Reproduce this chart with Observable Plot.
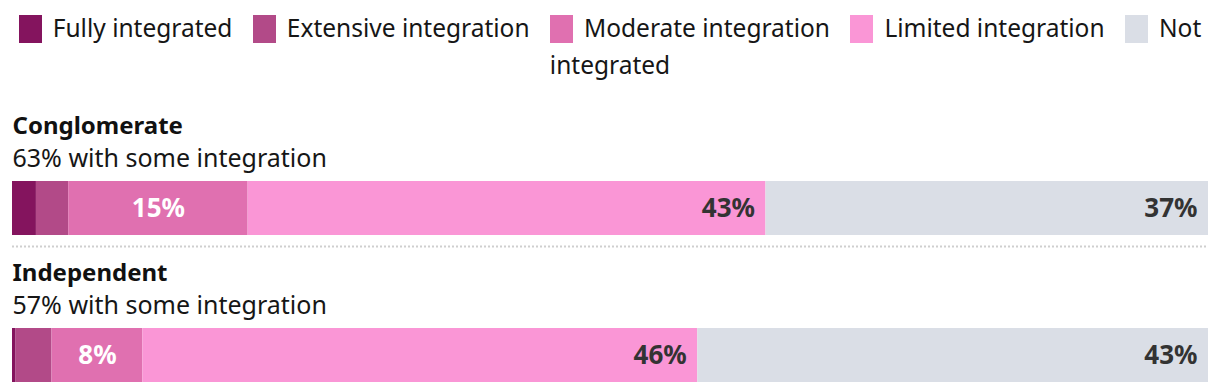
<!DOCTYPE html>
<html>
<head>
<meta charset="utf-8">
<script src="https://cdn.jsdelivr.net/npm/d3@7"></script>
<script src="https://cdn.jsdelivr.net/npm/@observablehq/plot@0.6"></script>
<style>
  html, body { margin: 0; padding: 0; background: #fff; }
  body { width: 1220px; height: 392px; overflow: hidden; font-family: "Noto Sans", sans-serif; color: #161616; }
  #legend { height: 100px; box-sizing: border-box; padding-top: 9px; text-align: center; font-size: 24.5px; line-height: 37px; }
  #legend .item { white-space: nowrap; margin: 0 7px; }
  #legend .sw { display: inline-block; width: 23px; height: 28px; vertical-align: -6px; margin-right: 11px; }
  #chart svg { display: block; }
</style>
</head>
<body>
<div id="legend"></div>
<div id="chart"></div>
<script>
const groups = ["Conglomerate", "Independent"];
const categories = ["Fully integrated", "Extensive integration", "Moderate integration", "Limited integration", "Not integrated"];
const colors = ["#84145e", "#b24a88", "#e070b0", "#fa96d6", "#dadee6"];
const conglomerateValues = [2, 2.7, 15, 43.3, 37];
const independentValues = [0.3, 3, 7.6, 46.4, 42.7];

const data = [];
groups.forEach((g, gi) => {
  const vals = gi === 0 ? conglomerateValues : independentValues;
  categories.forEach((c, ci) => data.push({group: g, category: c, value: vals[ci]}));
});
const someIntegration = groups.map((g) => ({
  group: g,
  pct: Math.round(d3.sum(data.filter(d => d.group === g && d.category !== "Not integrated"), d => d.value))
}));

// Legend (HTML)
const legend = document.getElementById("legend");
categories.forEach((c, i) => {
  const span = document.createElement("span");
  span.className = "item";
  const sw = document.createElement("span");
  sw.className = "sw";
  sw.style.background = colors[i];
  span.appendChild(sw);
  if (c === "Not integrated") {
    span.appendChild(document.createTextNode("Not"));
    legend.appendChild(span);
    legend.appendChild(document.createElement("br"));
    legend.appendChild(document.createTextNode("integrated"));
  } else {
    span.appendChild(document.createTextNode(c));
    legend.appendChild(span);
    legend.appendChild(document.createTextNode(" "));
  }
});

const fmt = d => Math.round(d.value) + "%";
const font = "Noto Sans, sans-serif";

const chart = Plot.plot({
  width: 1220,
  height: 292,
  marginLeft: 12,
  marginRight: 12,
  marginTop: 80,
  marginBottom: 10,
  style: {fontFamily: font, background: "white"},
  x: {domain: [0, 100], axis: null},
  y: {type: "band", domain: groups, paddingInner: 0.635, paddingOuter: 0, axis: null},
  color: {domain: categories, range: colors},
  marks: [
    Plot.barX(data, Plot.stackX({x: "value", y: "group", fill: "category", inset: 0})),
    Plot.text(data, Plot.stackX({
      x: "value", y: "group",
      text: d => d.category === "Moderate integration" && d.value >= 5 ? fmt(d) : "",
      fill: "white", fontSize: 26, fontWeight: 700
    })),
    Plot.text(data, Plot.stackX2({
      x: "value", y: "group",
      text: d => (d.category === "Limited integration" || d.category === "Not integrated") && d.value >= 5 ? fmt(d) : "",
      fill: "#333", fontSize: 26, fontWeight: 700, textAnchor: "end", dx: -11
    })),
    Plot.text(groups, {
      x: () => 0, y: d => d, text: d => d,
      textAnchor: "start", fontSize: 24, fontWeight: 700, fill: "#111", dy: -82
    }),
    Plot.text(someIntegration, {
      x: () => 0, y: "group", text: d => d.pct + "% with some integration",
      textAnchor: "start", fontSize: 25, fill: "#161616", dy: -50
    }),
    Plot.ruleY(groups.slice(0, 1), {
      y: d => d, dy: 38, stroke: "#cfcfcf", strokeWidth: 2, strokeDasharray: "2,2"
    })
  ]
});
document.getElementById("chart").appendChild(chart);
</script>
</body>
</html>
